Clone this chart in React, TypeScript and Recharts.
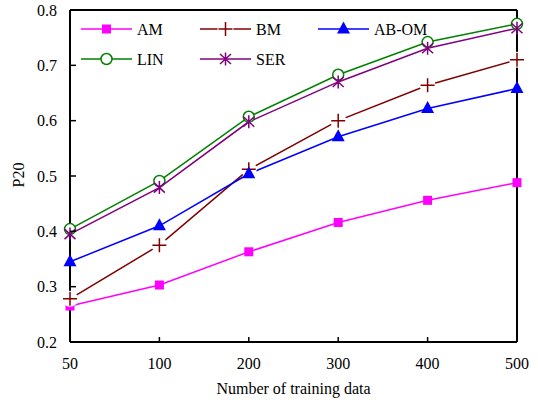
import React from 'react';
import { LineChart, Line, XAxis, YAxis, ReferenceLine } from 'recharts';

// training set sizes (categories) and P20 per method
const sizes = ['50', '100', '200', '300', '400', '500'];
const amValues = [0.265, 0.303, 0.363, 0.416, 0.456, 0.488];
const bmValues = [0.278, 0.375, 0.512, 0.6, 0.664, 0.71];
const abomValues = [0.345, 0.41, 0.504, 0.571, 0.622, 0.658];
const linValues = [0.404, 0.491, 0.607, 0.683, 0.742, 0.775];
const serValues = [0.395, 0.479, 0.598, 0.67, 0.731, 0.767];
const yTicks = [0.2, 0.3, 0.4, 0.5, 0.6, 0.7, 0.8];

const data = sizes.map((s, i) => ({
  size: s,
  AM: amValues[i],
  BM: bmValues[i],
  ABOM: abomValues[i],
  LIN: linValues[i],
  SER: serValues[i],
}));

type Kind = 'square' | 'plus' | 'triangle' | 'circle' | 'star';

const series: { key: string; name: string; color: string; kind: Kind }[] = [
  { key: 'AM', name: 'AM', color: '#ff00ff', kind: 'square' },
  { key: 'BM', name: 'BM', color: '#800000', kind: 'plus' },
  { key: 'ABOM', name: 'AB-OM', color: '#0000ff', kind: 'triangle' },
  { key: 'LIN', name: 'LIN', color: '#008000', kind: 'circle' },
  { key: 'SER', name: 'SER', color: '#800080', kind: 'star' },
];

const FONT = '"Liberation Serif", "Times New Roman", serif';
const FS = 16;

const Marker = ({ kind, cx, cy, color }: { kind: Kind; cx: number; cy: number; color: string }) => {
  if (kind === 'square') {
    return <rect x={cx - 4.5} y={cy - 4.5} width={9} height={9} fill={color} />;
  }
  if (kind === 'plus') {
    return (
      <g>
        <circle cx={cx} cy={cy} r={8} fill="#fff" />
        <path d={`M${cx - 7},${cy}H${cx + 7}M${cx},${cy - 7}V${cy + 7}`} stroke={color} strokeWidth={1.5} fill="none" />
      </g>
    );
  }
  if (kind === 'triangle') {
    return <path d={`M${cx},${cy - 7.5}L${cx + 6.5},${cy + 4.5}L${cx - 6.5},${cy + 4.5}Z`} fill={color} />;
  }
  if (kind === 'circle') {
    return <circle cx={cx} cy={cy} r={5.5} fill="#fff" stroke={color} strokeWidth={1.5} />;
  }
  return (
    <path
      d={`M${cx},${cy - 6.5}V${cy + 6.5}M${cx - 5.5},${cy - 5}L${cx + 5.5},${cy + 5}M${cx + 5.5},${cy - 5}L${cx - 5.5},${cy + 5}`}
      stroke={color}
      strokeWidth={1.5}
      fill="none"
    />
  );
};

const XTick = (props: any) => {
  const { x, y, payload } = props;
  return (
    <g>
      <line x1={x} y1={y} x2={x} y2={y - 5} stroke="#000" strokeWidth={1.5} />
      <text x={x} y={y + 27} textAnchor="middle" fontFamily={FONT} fontSize={FS} fill="#000">
        {payload.value}
      </text>
    </g>
  );
};

const YTick = (props: any) => {
  const { x, y, payload } = props;
  return (
    <g>
      <line x1={x} y1={y} x2={x + 6} y2={y} stroke="#000" strokeWidth={1.5} />
      <text x={x - 13} y={y + 5.5} textAnchor="end" fontFamily={FONT} fontSize={FS} fill="#000">
        {payload.value.toFixed(1)}
      </text>
    </g>
  );
};

// legend placement inside the plot box
const legendSlots = [
  { x: 81, y: 29 },
  { x: 200, y: 29 },
  { x: 318, y: 29 },
  { x: 81, y: 59 },
  { x: 200, y: 59 },
];

const App = () => {
  return (
    <div style={{ position: 'absolute', left: 0, top: 0, width: 538, height: 406, background: '#fff' }}>
      <LineChart width={538} height={406} data={data} margin={{ top: 10, right: 21, left: 10, bottom: 10 }}>
        <XAxis
          dataKey="size"
          height={54}
          interval={0}
          tickSize={0}
          tickMargin={0}
          tickLine={false}
          tick={<XTick />}
          axisLine={{ stroke: '#000', strokeWidth: 2 }}
        />
        <YAxis
          domain={[0.2, 0.8]}
          ticks={yTicks}
          width={60}
          tickSize={0}
          tickMargin={0}
          tickLine={false}
          tick={<YTick />}
          axisLine={{ stroke: '#000', strokeWidth: 2 }}
        />
        <ReferenceLine y={0.8} stroke="#000" strokeWidth={2} />
        <ReferenceLine x="500" stroke="#000" strokeWidth={2} />
        {series.map((s) => (
          <Line
            key={s.key}
            dataKey={s.key}
            name={s.name}
            stroke={s.color}
            strokeWidth={1.5}
            type="linear"
            isAnimationActive={false}
            dot={(p: any) => (
              <g key={`${s.key}-${p.index}`}>
                <Marker kind={s.kind} cx={p.cx} cy={p.cy} color={s.color} />
              </g>
            )}
            activeDot={false}
          />
        ))}
      </LineChart>
      <svg width={538} height={406} style={{ position: 'absolute', left: 0, top: 0, pointerEvents: 'none' }}>
        <text x={293.5} y={394} textAnchor="middle" fontFamily={FONT} fontSize={FS} fill="#000">
          Number of training data
        </text>
        <text x={24} y={175} transform="rotate(-90 24 175)" textAnchor="middle" fontFamily={FONT} fontSize={FS} fill="#000">
          P20
        </text>
        {series.map((s, i) => {
          const slot = legendSlots[i];
          return (
            <g key={s.key}>
              <line x1={slot.x} y1={slot.y} x2={slot.x + 51} y2={slot.y} stroke={s.color} strokeWidth={1.5} />
              <Marker kind={s.kind} cx={slot.x + 25.5} cy={slot.y} color={s.color} />
              <text x={slot.x + 56} y={slot.y + 5.5} fontFamily={FONT} fontSize={FS} fill="#000">
                {s.name}
              </text>
            </g>
          );
        })}
      </svg>
    </div>
  );
};

export default App;
